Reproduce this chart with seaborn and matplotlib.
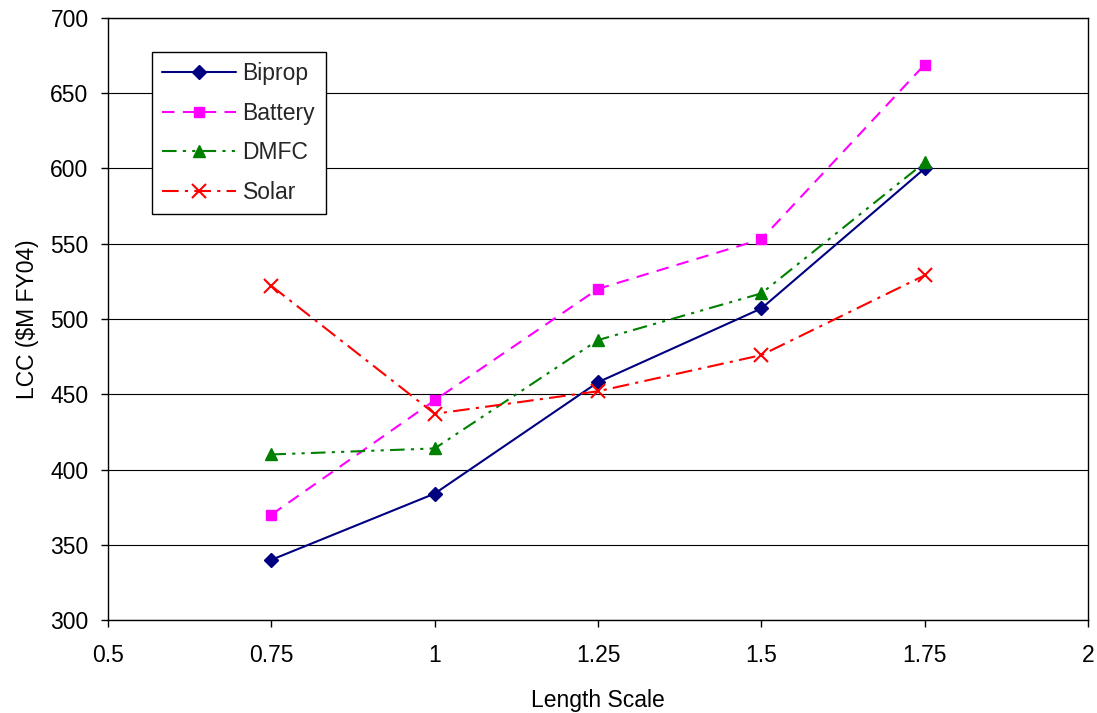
import matplotlib
matplotlib.use("Agg")
import matplotlib.pyplot as plt
import seaborn as sns
import pandas as pd

length_scale = [0.75, 1.0, 1.25, 1.5, 1.75]
biprop = [340, 384, 458, 507, 600]
battery = [370, 446, 520, 553, 669]
dmfc = [410, 414, 486, 517, 604]
solar = [522, 437, 452, 476, 529]

series_names = ["Biprop", "Battery", "DMFC", "Solar"]
series_values = [biprop, battery, dmfc, solar]
colors = ["#000080", "#FF00FF", "#008000", "#FF0000"]
markers = ["D", "s", "^", "x"]
marker_sizes = [7.5, 7.5, 9, 10]
dashes = ["-", (0, (6, 4)), (0, (7, 3, 1.5, 3, 1.5, 3)), (0, (8, 3, 1.5, 3))]

sns.set_theme(style="white")
plt.rcParams["font.family"] = ["Liberation Sans", "DejaVu Sans"]

FS = 16.5

fig = plt.figure(figsize=(10.97, 7.13), dpi=100)
ax = fig.add_axes([0.0985, 0.1304, 0.8933, 0.8444])

for name, vals, c, m, ms, d in zip(series_names, series_values, colors, markers, marker_sizes, dashes):
    df = pd.DataFrame({"x": length_scale, "y": vals})
    sns.lineplot(data=df, x="x", y="y", ax=ax, color=c, marker=m, label=name,
                 linestyle=d, linewidth=1.5, markersize=ms,
                 markeredgecolor=c, markerfacecolor=c,
                 markeredgewidth=1.0 if m != "x" else 1.5)

ax.set_xlim(0.5, 2.0)
ax.set_ylim(300, 700)
ax.set_xticks([0.5, 0.75, 1, 1.25, 1.5, 1.75, 2])
ax.set_xticklabels(["0.5", "0.75", "1", "1.25", "1.5", "1.75", "2"])
ax.set_yticks(range(300, 701, 50))
ax.yaxis.grid(True, color="black", linewidth=0.8)
ax.xaxis.grid(False)
for s in ax.spines.values():
    s.set_color("black")
    s.set_linewidth(1.0)
ax.tick_params(axis="both", which="both", direction="out", length=5, width=1,
               color="black", labelsize=FS, labelcolor="black", bottom=True, left=True)
ax.tick_params(axis="x", pad=12)
ax.tick_params(axis="y", pad=9)
ax.set_xlabel("Length Scale", fontsize=FS, labelpad=16, color="black")
ax.set_ylabel("LCC (\\$M FY04)", fontsize=FS, labelpad=8, color="black")

leg = ax.legend(loc="upper left", bbox_to_anchor=(0.0449, 0.9435), fontsize=FS,
                frameon=True, fancybox=False, edgecolor="black", framealpha=1,
                handlelength=3.2, borderpad=0.45, labelspacing=0.72, handletextpad=0.3,
                borderaxespad=0)
leg.get_frame().set_linewidth(1.0)

fig.savefig("out.png", dpi=100)
